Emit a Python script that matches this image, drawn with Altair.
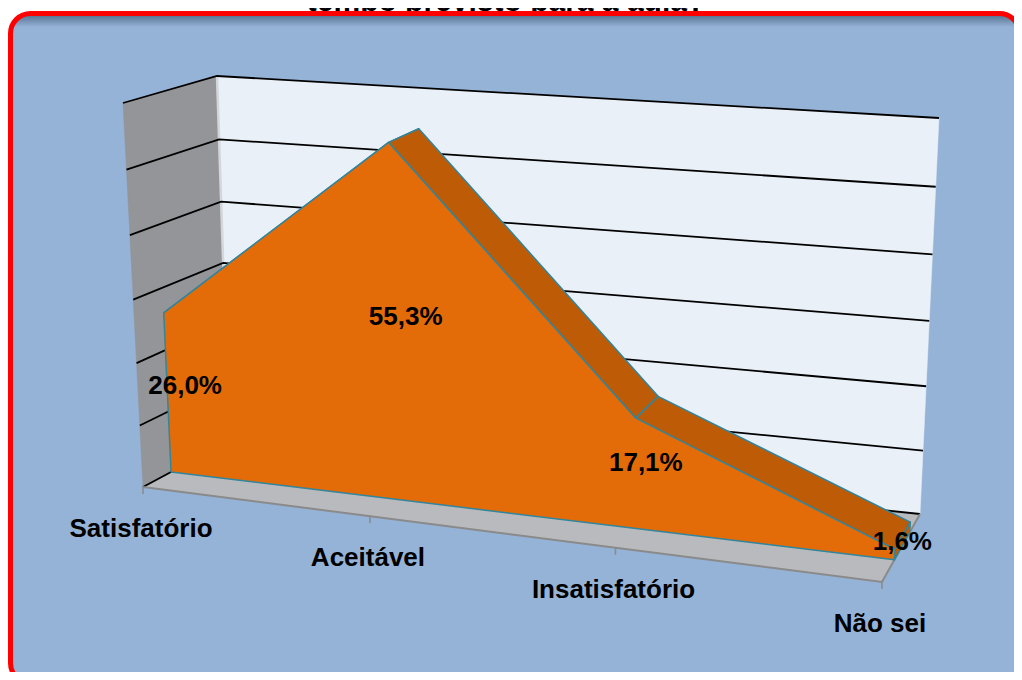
import numpy as np
import pandas as pd
import altair as alt

# ---------------- data ----------------
categories = ["Satisfatório", "Aceitável", "Insatisfatório", "Não sei"]
values = [26.0, 55.3, 17.1, 1.6]
value_labels = ["26,0%", "55,3%", "17,1%", "1,6%"]
grid_values = [0, 10, 20, 30, 40, 50, 60]
title_text = "tempo previsto para a aula?"

# ---------------- layout / 3-D view ----------------
W, H = 1006, 664          # svg size (page has an 8px margin)
OFF = 8
V_MAX = 60.0
# screen anchors of the 3-D box corners: (category pos, value pos) -> page px
FRONT = {(0, 0): (143, 487), (1, 0): (882, 582), (0, 1): (123, 103), (1, 1): (907, 162)}
BACK = {(0, 0): (229, 441), (1, 0): (920, 514), (0, 1): (217, 76), (1, 1): (939, 118)}
K_U, K_V = 1.128, 1.05     # perspective foreshortening along categories / values
W_FRONT, W_BACK = 0.326, 0.73   # depth of the series slab


def proj(u, v, w):
    up = u / (K_U + (1 - K_U) * u)
    vp = v / (K_V + (1 - K_V) * v)

    def plane(c):
        b = (1 - up) * np.array(c[(0, 0)], float) + up * np.array(c[(1, 0)], float)
        t = (1 - up) * np.array(c[(0, 1)], float) + up * np.array(c[(1, 1)], float)
        return (1 - vp) * b + vp * t

    p = (1 - w) * plane(FRONT) + w * plane(BACK)
    return float(p[0]), float(p[1])


def poly_rows(pid, pts):
    rows = []
    for k, (u, v, w) in enumerate(pts):
        x, y = proj(u, v, w)
        rows.append({"pid": pid, "ord": k, "x": x, "y": y})
    return rows


n = len(categories)
us = [i / (n - 1) for i in range(n)]
vs = [val / V_MAX for val in values]

X = alt.X("x:Q", scale=alt.Scale(domain=[OFF, OFF + W], nice=False, zero=False), axis=None)
Y = alt.Y("y:Q", scale=alt.Scale(domain=[OFF, OFF + H], nice=False, zero=False, reverse=True), axis=None)


def polygons(rows, fill, stroke, sw):
    return alt.Chart(pd.DataFrame(rows)).mark_line(
        interpolate="linear-closed", fill=fill, stroke=stroke, strokeWidth=sw, strokeJoin="round"
    ).encode(x=X, y=Y, order="ord:Q", detail="pid:N")


def polylines(rows, stroke, sw):
    return alt.Chart(pd.DataFrame(rows)).mark_line(
        stroke=stroke, strokeWidth=sw
    ).encode(x=X, y=Y, order="ord:Q", detail="pid:N")


# ---- title (cut by the frame, as in the reference) ----
title = alt.Chart(pd.DataFrame({"x": [506], "y": [10.5], "t": [title_text]})).mark_text(
    font="Liberation Sans", fontWeight="bold", fontSize=30, align="center", baseline="alphabetic", color="black"
).encode(x=X, y=Y, text="t:N")

# ---- frame ----
frame_df = pd.DataFrame({"x": [10.5], "x2": [1019.5], "y": [13.5], "y2": [683]})
frame = alt.Chart(frame_df).mark_rect(
    cornerRadius=20, stroke="#FF0000", strokeWidth=5,
    fill=alt.Gradient(gradient="linear", x1=0, y1=0, x2=0, y2=1,
                      stops=[alt.GradientStop(offset=0, color="#4D6785"),
                             alt.GradientStop(offset=0.02, color="#95B3D7"),
                             alt.GradientStop(offset=1, color="#95B3D7")])
).encode(x=X, x2="x2:Q", y=Y, y2="y2:Q")

# ---- walls and floor ----
back_wall = polygons(poly_rows("b", [(0, 0, 1), (1, 0, 1), (1, 1, 1), (0, 1, 1)]), "#E9F0F8", "#E9F0F8", 0.5)
left_wall = polygons(poly_rows("l", [(0, 0, 0), (0, 0, 1), (0, 1, 1), (0, 1, 0)]), "#939598", "#939598", 0.5)
left_edge = polylines(poly_rows("e", [(0, 0, 1), (0, 1, 1)]), "#D4D7DA", 2.5)
floor = polygons(poly_rows("f", [(0, 0, 0), (1, 0, 0), (1, 0, 1), (0, 0, 1)]), "#B8BABD", "#B8BABD", 0.5)
floor_edges = polylines(poly_rows("fe", [(0, 0, 0), (1, 0, 0), (1, 0, 1)]), "#8A8A8A", 2)

grid_rows = []
for g in grid_values:
    grid_rows += poly_rows(f"g{g}", [(0, g / V_MAX, 0), (0, g / V_MAX, 1), (1, g / V_MAX, 1)])
grid = polylines(grid_rows, "#000000", 1.8)

tick_rows = []
for u in us:
    x, y = proj(u, 0, 0)
    tick_rows.append({"x": x, "y": y, "y2": y + 7})
ticks = alt.Chart(pd.DataFrame(tick_rows)).mark_rule(color="#8A8A8A", strokeWidth=1.5).encode(x=X, y=Y, y2="y2:Q")

# ---- the 3-D area series ----
dark_rows = []
for i in range(n - 1):
    dark_rows += poly_rows(f"t{i}", [(us[i], vs[i], W_FRONT), (us[i + 1], vs[i + 1], W_FRONT),
                                     (us[i + 1], vs[i + 1], W_BACK), (us[i], vs[i], W_BACK)])
dark_rows += poly_rows("side", [(1, 0, W_FRONT), (1, vs[-1], W_FRONT), (1, vs[-1], W_BACK), (1, 0, W_BACK)])
series_dark = polygons(dark_rows, "#BE5B07", "#31859C", 1.5)

front_pts = [(0, 0, W_FRONT)] + [(u, v, W_FRONT) for u, v in zip(us, vs)] + [(1, 0, W_FRONT)]
series_front = polygons(poly_rows("front", front_pts), "#E36C09", "#31859C", 1.5)

# ---- labels ----
vl_rows = []
for u, v, lab in zip(us, vs, value_labels):
    x, y = proj(u, v / 2, (W_FRONT + W_BACK) / 2)
    vl_rows.append({"x": x, "y": y, "t": lab})
value_text = alt.Chart(pd.DataFrame(vl_rows)).mark_text(
    font="Liberation Sans", fontWeight="bold", fontSize=26, align="center", baseline="middle", color="black",
    dy=1
).encode(x=X, y=Y, text="t:N")

cl_rows = []
for u, lab in zip(us, categories):
    x, y = proj(u, 0, 0)
    cl_rows.append({"x": x, "y": y, "t": lab})
cat_text = alt.Chart(pd.DataFrame(cl_rows)).mark_text(
    font="Liberation Sans", fontWeight="bold", fontSize=26, align="center", baseline="middle",
    color="black", dx=-2, dy=42
).encode(x=X, y=Y, text="t:N")

chart = alt.layer(
    title, frame, back_wall, left_wall, left_edge, floor, grid, floor_edges, ticks,
    series_dark, series_front, value_text, cat_text
).properties(
    width=W, height=H, padding=0, autosize=alt.AutoSizeParams(type="none"), background="white"
).configure_view(strokeWidth=0)

chart.save("out.html", embed_options={"renderer": "svg", "actions": False})
